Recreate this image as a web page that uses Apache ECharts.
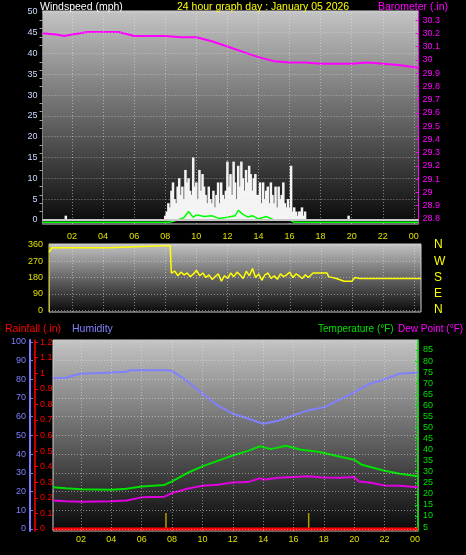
<!DOCTYPE html>
<html>
<head>
<meta charset="utf-8">
<script src="https://cdn.jsdelivr.net/npm/echarts@6/dist/echarts.min.js"></script>
<style>html,body{margin:0;background:#000}#main{width:466px;height:555px}</style>
</head>
<body>
<div id="main"></div>
<script>
// 气压 (hour, inHg)
var baro = [[0.1,30.20],[1,30.19],[1.5,30.18],[2,30.19],[3,30.21],[4,30.21],[5,30.21],[6,30.18],[7,30.18],[8,30.18],[9,30.17],[10,30.17],[11,30.14],[12,30.10],[13,30.06],[14,30.02],[15,29.99],[16,29.98],[17,29.98],[18,29.97],[19,29.97],[20,29.97],[21,29.98],[22,29.97],[23,29.96],[24.3,29.94]];
// 阵风 (8.0 起每 0.1 小时)
var gustStart = 8.0, gustStep = 0.1;
var gust = [1,2,4,3,7,9,5,4,8,10, 6,8,5,12,9,10,7,6,15,8, 9,5,12,7,11,8,6,4,8,5, 4,7,3,6,9,4,9,6,5,7,
  14,8,11,6,14,9,5,13,8,14, 10,7,12,9,13,11,7,10,11,6, 6,9,4,9,5,7,8,4,9,6, 4,8,3,8,5,6,9,4,3,5, 3,13,2,3,2,1,2,2,3,1,2];
var gustExtra = [[1.6,1],[19.8,1]];
// 平均风速
var windAvg = [[0.1,-0.6],[8.3,-0.6],[8.8,0],[9.2,0.5],[9.5,2],[9.8,0.6],[10,1.2],[10.5,0.8],[11,1],[11.5,0.3],[12,0.6],[12.5,1],[12.7,2.3],[13,1.3],[13.3,0.7],[13.6,1],[14,0.2],[14.5,0.8],[15,0],[16,0],[16.3,-0.6],[24.3,-0.6]];
// 风向
var dirHead = [[0.5,320],[0.7,345],[4.3,345],[4.4,351],[8.3,357],[8.38,205]];
var dirNoisyStart = 8.4, dirNoisyStep = 0.2;
var dirNoisy = [200,215,190,210,195,205,185,200,220,190,205,180,195,170,185,200,160,190,175,205,185,210,195,175,215,190,230,180,200,165,195,205,175,190,170,200,185,195,210,180,200,190,175,195];
var dirTail = [[17.2,180],[17.5,205],[18.4,205],[18.5,185],[19,175],[19.5,160],[20,160],[20.2,180],[20.5,175],[24.45,175]];
// 湿度 / 温度 / 露点
var humidity = [[0.16,80.5],[1,80.8],[1.5,82],[2,83],[4,83.6],[5,84],[5.2,84.8],[7.5,84.8],[8,84.5],[9,79],[10,72.4],[11,66],[12,61.6],[13,59],[14,56.2],[15,57.8],[16,60.7],[17,63.5],[18,65],[19,69],[20,73],[21,77.5],[22,80],[23,83],[24.2,83.6]];
var temp = [[0.16,23],[1,22.5],[2,22.1],[4,21.8],[5,22.3],[6,23.3],[7.5,24],[8,25.6],[9,29.4],[10,32.4],[11,34.9],[12,37.3],[13,39.4],[13.8,41.5],[14.5,40.2],[15.5,41.7],[16.5,39.9],[17.5,39.1],[18,38.4],[19,36.9],[20,35.4],[20.5,33.1],[22,30.4],[23,29.1],[24.2,27.9]];
var dew = [[0.16,17],[1,16.6],[2,16.4],[4,16.6],[5,17],[6,18.4],[7.5,18.7],[8,20.3],[9,22.3],[10,23.6],[11,24.1],[12,25.1],[13,25.3],[13.8,27.1],[14,26.4],[15,27.3],[16,27.6],[17,27.9],[18,27.4],[19,27.3],[20,27.6],[20.3,25.6],[21,25.1],[22,23.8],[23,23.6],[24.2,23]];
var rain = [[0.16,0],[24.2,0]];
var marks = [[7.6,8.5],[17,8.5]];

var hourTicks = [2,4,6,8,10,12,14,16,18,20,22,24];
var windTicks = [0,5,10,15,20,25,30,35,40,45,50];
var baroTicks = [28.8,28.9,29,29.1,29.2,29.3,29.4,29.5,29.6,29.7,29.8,29.9,30,30.1,30.2,30.3];
var dirTicks = [0,90,180,270,360];
var humTicks = [0,10,20,30,40,50,60,70,80,90,100];
var rainTicks = [0,0.1,0.2,0.3,0.4,0.5,0.6,0.7,0.8,0.9,1,1.1,1.2];
var tempTicks = [5,10,15,20,25,30,35,40,45,50,55,60,65,70,75,80,85];

var gustData = gust.map(function(v, i){ return [+(gustStart + i*gustStep).toFixed(2), v]; }).concat(gustExtra);
var dirData = dirHead.concat(dirNoisy.map(function(v, i){ return [+(dirNoisyStart + i*dirNoisyStep).toFixed(2), v]; }), dirTail);

var font = 'Liberation Sans';
function bg() {
	return {type:'linear',x:0,y:0,x2:0,y2:1,colorStops:[{offset:0,color:'#c4c4c4'},{offset:1,color:'#080808'}]};
}
function hourAxis(idx, min, max, pos, showLabel, margin) {
	return {type:'value', gridIndex:idx, min:min, max:max, position:pos,
		axisLine:{show:false}, axisTick:{show:false},
		axisLabel:{show:showLabel, customValues:hourTicks, color:'#e0e000', fontSize:9, fontFamily:font, margin:margin,
			formatter:function(v){ var h = v % 24; return (h < 10 ? '0' : '') + h; }},
		splitLine:{show:false}};
}
function vLines(idx, yIdx, lo, hi) {
	return {type:'line', xAxisIndex:idx, yAxisIndex:yIdx, silent:true, symbol:'none', data:[],
		markLine:{silent:true, symbol:'none', label:{show:false},
			lineStyle:{color:'rgba(230,230,230,0.5)', type:[1,2], width:1},
			data:hourTicks.map(function(h){ return [{coord:[h, lo]},{coord:[h, hi]}]; })}};
}
function hLines(idx, yIdx, ticks, x0, x1) {
	return {type:'line', xAxisIndex:idx, yAxisIndex:yIdx, silent:true, symbol:'none', data:[],
		markLine:{silent:true, symbol:'none', label:{show:false},
			lineStyle:{color:'rgba(230,230,230,0.5)', type:[1,2], width:1},
			data:ticks.map(function(t){ return [{coord:[x0, t]},{coord:[x1, t]}]; })}};
}
function head(text, left, top, color, size) {
	return {text:text, left:left, top:top, textStyle:{color:color, fontSize:size, fontWeight:'normal', fontFamily:font}};
}

var myChart = echarts.init(document.getElementById('main'));
var option = {
	backgroundColor:'#000',
	animation:false,
	title:[
		head('Windspeed (mph)', 35, -3, '#fff', 10.5),
		head('24 hour graph day : January 05 2026', 172, -3, '#ffff00', 10.5),
		head('Barometer (.in)', 373, -3, '#ff00ff', 10.5),
		head('Rainfall (.in)', 0, 319, '#ff0000', 10.5),
		head('Humidity', 67, 319, '#8080ff', 10.5),
		head('Temperature (°F)', 313, 319, '#00e000', 10),
		head('Dew Point (°F)', 393, 319, '#ff00ff', 10)
	],
	grid:[
		{left:42.5, right:47.5, top:11, height:213, show:true, backgroundColor:bg(), borderColor:'#d0d0d0', borderWidth:1},
		{left:49, right:45, top:244, height:68, show:true, backgroundColor:bg(), borderColor:'#d0d0d0', borderWidth:1},
		{left:53, right:48, top:340, height:191, show:true, backgroundColor:bg(), borderColor:'#d0d0d0', borderWidth:1}
	],
	xAxis:[hourAxis(0, 0.1, 24.3, 'bottom', true, 8), hourAxis(1, 0.5, 24.45, 'top', false, 4), hourAxis(2, 0.16, 24.2, 'bottom', true, 4)],
	yAxis:[
		{type:'value', gridIndex:0, min:-1, max:50.2, position:'left',
			axisLine:{show:true, lineStyle:{color:'#808080'}}, axisTick:{show:false},
			minorTick:{show:true, splitNumber:5, length:3, lineStyle:{color:'#a0a0a0'}},
			axisLabel:{customValues:windTicks, color:'#c8dcff', fontSize:9, fontFamily:font, margin:5}, splitLine:{show:false}},
		{type:'value', gridIndex:0, min:28.762, max:30.368, position:'right',
			axisLine:{show:true, lineStyle:{color:'#ff00ff'}}, axisTick:{customValues:baroTicks, length:3, inside:true},
			axisLabel:{customValues:baroTicks, color:'#ff00ff', fontSize:9, fontFamily:font, margin:4,
				formatter:function(v){ return +v.toFixed(1) + ''; }}, splitLine:{show:false}},
		{type:'value', gridIndex:1, min:-10, max:365, position:'left',
			axisLine:{show:true, lineStyle:{color:'#c0c000'}}, axisTick:{show:false},
			axisLabel:{customValues:dirTicks, color:'#e0e000', fontSize:9, fontFamily:font, margin:6}, splitLine:{show:false}},
		{type:'value', gridIndex:1, min:-10, max:365, position:'right',
			axisLine:{show:false}, axisTick:{show:false},
			axisLabel:{customValues:dirTicks, color:'#ffff00', fontSize:12, fontFamily:font, margin:13,
				formatter:function(v){ return {0:'N',90:'E',180:'S',270:'W',360:'N'}[v]; }}, splitLine:{show:false}},
		{type:'value', gridIndex:2, min:-1.1, max:101, position:'left', offset:23,
			axisLine:{show:true, lineStyle:{color:'#8080ff', width:2}}, axisTick:{customValues:humTicks, length:3, inside:true},
			axisLabel:{customValues:humTicks, color:'#8080ff', fontSize:9, fontFamily:font, margin:4}, splitLine:{show:false}},
		{type:'value', gridIndex:2, min:-0.013, max:1.213, position:'left', offset:18,
			axisLine:{show:true, lineStyle:{color:'#ff0000', width:1.5}},
			axisTick:{customValues:rainTicks, inside:true, length:3},
			minorTick:{show:true, splitNumber:2, length:2, lineStyle:{color:'#ff0000'}},
			axisLabel:{customValues:rainTicks, inside:true, color:'#ff0000', fontSize:9, fontFamily:font, margin:5,
				formatter:function(v){ return +v.toFixed(1) + ''; }}, splitLine:{show:false}},
		{type:'value', gridIndex:2, min:3.2, max:89.5, position:'right',
			axisLine:{show:true, lineStyle:{color:'#00e000', width:1.5}},
			axisTick:{customValues:tempTicks, inside:true, length:3, lineStyle:{color:'#00e000'}},
			axisLabel:{customValues:tempTicks, color:'#00e000', fontSize:9, fontFamily:font, margin:5}, splitLine:{show:false}}
	],
	series:[
		vLines(0, 0, -1, 50.2), hLines(0, 0, windTicks, 0.1, 24.3),
		vLines(1, 2, -10, 365), hLines(1, 2, dirTicks, 0.5, 24.45),
		vLines(2, 4, -1.1, 101), hLines(2, 4, humTicks, 0.16, 24.2),
		{name:'gust', type:'bar', xAxisIndex:0, yAxisIndex:0, data:gustData, barWidth:2.5,
			itemStyle:{color:'#f4f4f4'},
			markLine:{silent:true, symbol:'none', label:{show:false}, lineStyle:{color:'#c8c8c8', width:2, type:'solid'},
				data:[[{coord:[0.1,0]},{coord:[24.3,0]}]]}},
		{name:'windAvg', type:'line', xAxisIndex:0, yAxisIndex:0, data:windAvg, symbol:'none', lineStyle:{color:'#00ff00', width:1.5}},
		{name:'baro', type:'line', xAxisIndex:0, yAxisIndex:1, data:baro, symbol:'none', lineStyle:{color:'#ff00ff', width:2}},
		{name:'dir', type:'line', xAxisIndex:1, yAxisIndex:2, data:dirData, symbol:'none', lineStyle:{color:'#ffff00', width:1.5}},
		{name:'marks', type:'bar', xAxisIndex:2, yAxisIndex:4, data:marks, barWidth:1.5, itemStyle:{color:'#b0a000'}},
		{name:'humidity', type:'line', xAxisIndex:2, yAxisIndex:4, data:humidity, symbol:'none', lineStyle:{color:'#8080ff', width:2}},
		{name:'temp', type:'line', xAxisIndex:2, yAxisIndex:6, data:temp, symbol:'none', lineStyle:{color:'#00e000', width:2}},
		{name:'dew', type:'line', xAxisIndex:2, yAxisIndex:6, data:dew, symbol:'none', lineStyle:{color:'#e000e0', width:2}},
		{name:'rain', type:'line', xAxisIndex:2, yAxisIndex:5, data:rain, symbol:'none', lineStyle:{color:'#ff0000', width:3}}
	]
};
myChart.setOption(option);
</script>
</body>
</html>
